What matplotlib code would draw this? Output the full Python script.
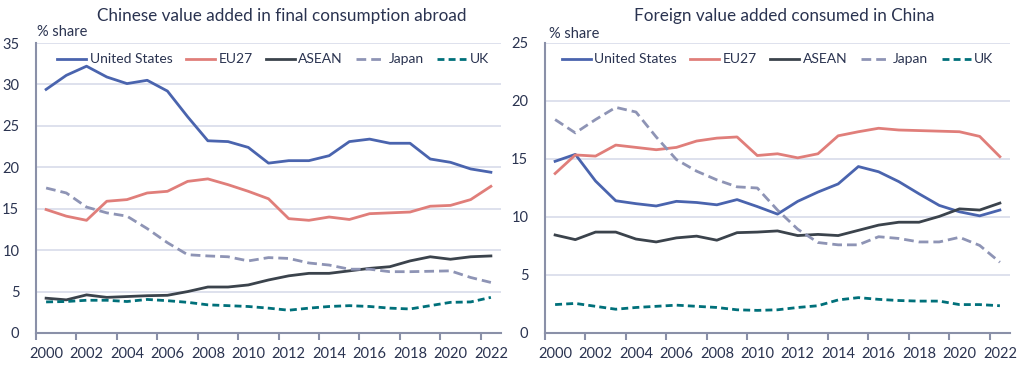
import numpy as np
import matplotlib.pyplot as plt

years = list(range(2000, 2023))
year_labels = [str(y) for y in years[::2]]
series_names = ['United States', 'EU27', 'ASEAN', 'Japan', 'UK']

# Chinese value added in final consumption abroad (% share)
abroad_us = [29.4, 31.1, 32.2, 30.9, 30.1, 30.5, 29.2, 26.1, 23.2, 23.1, 22.4, 20.5,
             20.8, 20.8, 21.4, 23.1, 23.4, 22.9, 22.9, 21.0, 20.6, 19.8, 19.4]
abroad_eu = [14.9, 14.1, 13.6, 15.9, 16.1, 16.9, 17.1, 18.3, 18.6, 17.9, 17.1, 16.2,
             13.8, 13.6, 14.0, 13.7, 14.4, 14.5, 14.6, 15.3, 15.4, 16.1, 17.7]
abroad_asean = [4.2, 4.0, 4.6, 4.3, 4.4, 4.5, 4.55, 5.0, 5.55, 5.55, 5.8, 6.4,
                6.9, 7.2, 7.2, 7.5, 7.8, 8.0, 8.7, 9.2, 8.9, 9.2, 9.3]
abroad_japan = [17.5, 16.9, 15.2, 14.5, 14.1, 12.6, 10.9, 9.45, 9.3, 9.2, 8.7, 9.1,
                9.0, 8.45, 8.2, 7.7, 7.7, 7.4, 7.4, 7.45, 7.5, 6.7, 6.1]
abroad_uk = [3.75, 3.8, 3.95, 3.95, 3.8, 4.05, 3.9, 3.7, 3.4, 3.3, 3.2, 3.0,
             2.75, 3.0, 3.2, 3.3, 3.2, 3.0, 2.9, 3.3, 3.7, 3.75, 4.3]

# Foreign value added consumed in China (% share)
china_us = [14.8, 15.4, 13.1, 11.4, 11.15, 10.95, 11.35, 11.25, 11.05, 11.5, 10.9, 10.25,
            11.35, 12.15, 12.85, 14.35, 13.9, 13.05, 12.0, 11.0, 10.45, 10.1, 10.6]
china_eu = [13.75, 15.35, 15.25, 16.2, 16.0, 15.8, 16.0, 16.55, 16.8, 16.9, 15.3, 15.45,
            15.1, 15.45, 17.0, 17.35, 17.65, 17.5, 17.45, 17.4, 17.35, 16.95, 15.2]
china_asean = [8.45, 8.05, 8.7, 8.7, 8.1, 7.85, 8.2, 8.35, 8.0, 8.65, 8.7, 8.8,
               8.4, 8.5, 8.4, 8.85, 9.3, 9.55, 9.55, 10.05, 10.7, 10.6, 11.2]
china_japan = [18.4, 17.25, 18.4, 19.45, 19.05, 16.9, 14.95, 13.95, 13.2, 12.6, 12.5, 10.6,
               8.95, 7.8, 7.6, 7.6, 8.3, 8.15, 7.85, 7.85, 8.25, 7.55, 6.1]
china_uk = [2.45, 2.55, 2.3, 2.05, 2.2, 2.3, 2.4, 2.3, 2.2, 2.0, 1.95, 2.0,
            2.2, 2.35, 2.85, 3.05, 2.9, 2.8, 2.75, 2.75, 2.45, 2.45, 2.35]

colors = ['#4A64AE', '#E07E7A', '#3B434C', '#8E94B5', '#00707A']
styles = ['-', '-', '-', (0, (3.5, 1.8)), (0, (2.5, 1.5))]
text_col = '#2A3350'
axis_col = '#8A90A8'
grid_col = '#D8DCEA'

plt.rcParams['font.family'] = ['Lato', 'DejaVu Sans']

W, H = 1021, 367
fig = plt.figure(figsize=(W / 100, H / 100), dpi=100)
ax1 = fig.add_axes([36 / W, 1 - 333 / H, 465 / W, 290 / H])
ax2 = fig.add_axes([545 / W, 1 - 333 / H, 465 / W, 290 / H])

panels = [
    (ax1, 'Chinese value added in final consumption abroad', 35, 282, 37, 32, 0.51,
     [abroad_us, abroad_eu, abroad_asean, abroad_japan, abroad_uk]),
    (ax2, 'Foreign value added consumed in China', 25, 784, 549, 34, 0.5,
     [china_us, china_eu, china_asean, china_japan, china_uk]),
]

x = np.arange(len(years))
for ax, title, ymax, tx, sx, sy, lx, data in panels:
    for name, vals, c, ls in zip(series_names, data, colors, styles):
        ax.plot(x, vals, color=c, linestyle=ls, linewidth=2.0, label=name)
    ax.set_xlim(-0.5, len(years) - 0.5)
    ax.set_ylim(0, ymax)
    ax.set_yticks(np.arange(0, ymax + 1, 5))
    ax.grid(axis='y', color=grid_col, linewidth=1.2)
    ax.set_axisbelow(True)
    for s in ['top', 'right']:
        ax.spines[s].set_visible(False)
    for s in ['left', 'bottom']:
        ax.spines[s].set_color(axis_col)
        ax.spines[s].set_linewidth(1.5)
    # tick marks between categories, labels on every other year
    ax.set_xticks(np.arange(-0.5, len(years) - 1, 2))
    ax.set_xticklabels([])
    ax.set_xticks(x[::2], minor=True)
    ax.set_xticklabels(year_labels, minor=True)
    ax.tick_params(axis='x', which='major', length=5, width=1.5, color=axis_col)
    ax.tick_params(axis='x', which='minor', length=0, pad=10, labelsize=10.5, labelcolor=text_col)
    ax.tick_params(axis='y', length=0, pad=12, labelsize=10.5, labelcolor=text_col)
    fig.text(tx / W, 1 - 16 / H, title, fontsize=12.3, color=text_col, ha='center', va='center')
    fig.text(sx / W, 1 - sy / H, '% share', fontsize=10.5, color=text_col, ha='left', va='center')
    ax.legend(loc='upper center', bbox_to_anchor=(lx, 1.0), ncol=5, frameon=False,
              fontsize=10, handlelength=2.1, handletextpad=0.25, columnspacing=0.95,
              labelcolor=text_col, borderaxespad=0.35)

fig.savefig('out.png', dpi=100)
